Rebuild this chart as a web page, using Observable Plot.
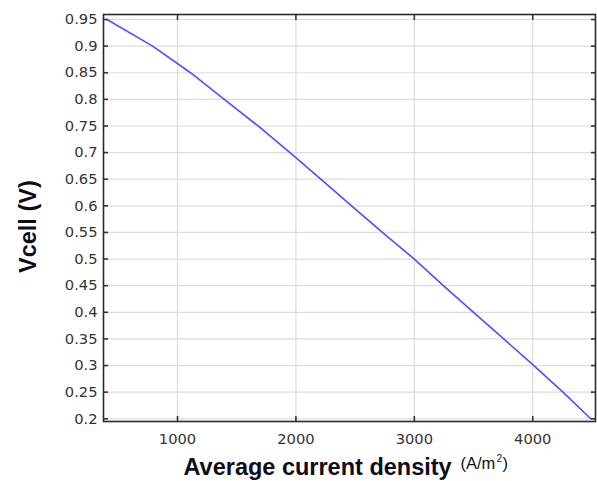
<!DOCTYPE html>
<html>
<head>
<meta charset="utf-8">
<script src="https://cdn.jsdelivr.net/npm/d3@7"></script>
<script src="https://cdn.jsdelivr.net/npm/@observablehq/plot@0.6"></script>
<style>
  html, body { margin: 0; padding: 0; background: #fff; }
  #chart svg { display: block; }
</style>
</head>
<body>
<div id="chart"></div>
<script>
const voltage = [0.95, 0.9, 0.85, 0.8, 0.75, 0.7, 0.65, 0.6, 0.55, 0.5, 0.45, 0.4, 0.35, 0.3, 0.25, 0.2];
const currentDensity = [405, 790, 1110, 1395, 1680, 1950, 2210, 2470, 2730, 3000, 3245, 3500, 3755, 4010, 4255, 4490];
const xTicks = [1000, 2000, 3000, 4000];
const yTicks = [0.2, 0.25, 0.3, 0.35, 0.4, 0.45, 0.5, 0.55, 0.6, 0.65, 0.7, 0.75, 0.8, 0.85, 0.9, 0.95];
const xTitle = "Average current density";
const xUnitParts = ["(A/m", "2", ")"];
const yTitle = "Vcell (V)";

const data = voltage.map((v, i) => ({v, j: currentDensity[i]}));
const tickFont = "DejaVu Sans, sans-serif";
const titleFont = "Liberation Sans, Arial, sans-serif";

const chart = Plot.plot({
  width: 597,
  height: 481,
  marginLeft: 103,
  marginRight: 2,
  marginTop: 14,
  marginBottom: 60,
  style: {background: "#fff", fontFamily: tickFont, fontSize: "14.7px", color: "#333"},
  x: {domain: [375, 4530]},
  y: {domain: [0.1949, 0.9594]},
  marks: [
    Plot.gridX(xTicks, {stroke: "#dcdcdc", strokeOpacity: 1, strokeWidth: 1.2}),
    Plot.gridY(yTicks, {stroke: "#dcdcdc", strokeOpacity: 1, strokeWidth: 1.2}),
    Plot.line(data, {x: "j", y: "v", stroke: "#4f4fff", strokeWidth: 1.6, clip: true}),
    Plot.frame({stroke: "#2a2a2a", strokeWidth: 1.6}),
    Plot.axisX(xTicks, {anchor: "bottom", tickSize: -5, tickPadding: 17.5, label: null, tickFormat: d => String(d), fill: "#333", stroke: "#333", strokeWidth: 1.6}),
    Plot.axisX(xTicks, {anchor: "top", tickSize: -5, label: null, tickFormat: () => "", stroke: "#333", strokeWidth: 1.6}),
    Plot.axisY(yTicks, {anchor: "left", tickSize: -5, tickPadding: 11, label: null, tickFormat: d => String(d), fill: "#333", stroke: "#333", strokeWidth: 1.6}),
    Plot.axisY(yTicks, {anchor: "right", tickSize: -5, label: null, tickFormat: () => "", stroke: "#333", strokeWidth: 1.6}),
    Plot.text([yTitle], {frameAnchor: "left", dx: -75, dy: 55, rotate: -90, fontWeight: "bold", fontSize: 23.5, fontFamily: titleFont, fill: "#0d0d1a"}),
    Plot.text([xTitle], {frameAnchor: "bottom", textAnchor: "start", lineAnchor: "bottom", dx: -166, dy: 53, fontWeight: "bold", fontSize: 23.5, fontFamily: titleFont, fill: "#0d0d1a"}),
    Plot.text([xUnitParts[0]], {frameAnchor: "bottom", textAnchor: "start", lineAnchor: "bottom", dx: 111, dy: 47, fontSize: 16.5, fontFamily: titleFont, fill: "#111"}),
    Plot.text([xUnitParts[1]], {frameAnchor: "bottom", textAnchor: "start", lineAnchor: "bottom", dx: 147, dy: 40, fontSize: 10, fontFamily: titleFont, fill: "#111"}),
    Plot.text([xUnitParts[2]], {frameAnchor: "bottom", textAnchor: "start", lineAnchor: "bottom", dx: 153, dy: 47, fontSize: 16.5, fontFamily: titleFont, fill: "#111"})
  ]
});
document.getElementById("chart").appendChild(chart);
</script>
</body>
</html>
